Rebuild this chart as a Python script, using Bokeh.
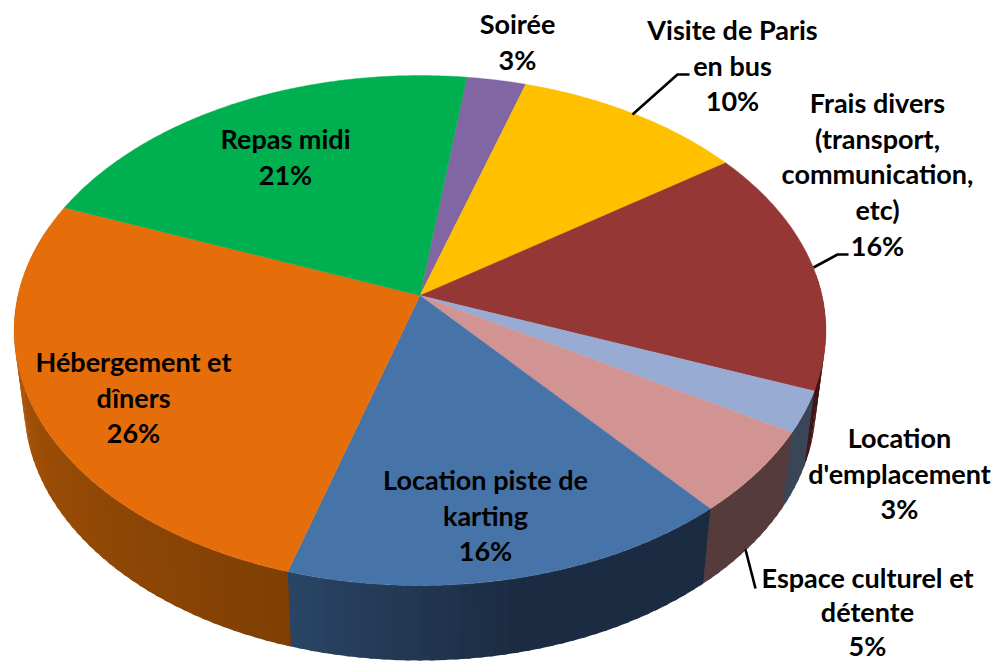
import math
from bokeh.plotting import figure
from bokeh.models import Range1d
from bokeh.core.properties import value
from bokeh.embed import file_html
from bokeh.resources import INLINE

# ---- data ------------------------------------------------------------------
names = ["Soirée", "Visite de Paris\nen bus", "Frais divers\n(transport,\ncommunication,\netc)",
         "Location\nd'emplacement", "Espace culturel et\ndétente", "Location piste de\nkarting",
         "Hébergement et\ndîners", "Repas midi"]
shares = [2.7, 10.5, 15.6, 2.6, 5.3, 15.8, 26.4, 21.1]
percent_labels = ["3%", "10%", "16%", "3%", "5%", "16%", "26%", "21%"]
top_colors = ["#8166a3", "#ffc000", "#953735", "#98abd3", "#d29493", "#4673a8", "#e56d0a", "#00b050"]
wall_stops = [["#4a3a60"], ["#806000"], ["#401414"], ["#3a4658"], ["#553b3c"],
              ["#1b2c42", "#1b2c42", "#2a4566"], ["#7f3f04", "#9a4c07", "#c4640c"], ["#005028"]]

# ---- layout (page pixels) ---------------------------------------------------
START_ANGLE = 7.6
CX, APEX_Y, A, B, K = 419.5, 295.0, 402.0, 250.2, 0.1373
DEPTH, BOTTOM_SCALE = 75.0, 0.975
WALL_FROM, WALL_TO = 85.0, 286.0
FONT_SIZE = "27px"
LINE_GAP = 35.7
label_pos = [(517, 23), (732, 29), (877, 102), (899, 437), (867, 576.5), (485, 479), (133, 361), (285, 138)]
label_gaps = [LINE_GAP, LINE_GAP, LINE_GAP, LINE_GAP, 34.4, LINE_GAP, LINE_GAP, LINE_GAP]
leader_lines = [[(632, 114), (677, 74), (689, 74)],
                [(813, 267), (837, 254), (848, 254)],
                [(745, 549), (755, 588)]]


def top_pt(theta):
    t = math.radians(theta)
    X, Y = math.sin(t), math.cos(t)
    d = 1 + K * Y
    return CX + A * X / d, APEX_Y - B * Y / d


def bottom_pt(theta):
    x, y = top_pt(theta)
    return CX + BOTTOM_SCALE * (x - CX), y + DEPTH


def rgb(h):
    return [int(h[i:i + 2], 16) for i in (1, 3, 5)]


def ramp(stops, f):
    if len(stops) == 1:
        return stops[0]
    pos = f * (len(stops) - 1)
    i = min(int(pos), len(stops) - 2)
    u = pos - i
    a, b = rgb(stops[i]), rgb(stops[i + 1])
    return "#%02x%02x%02x" % tuple(round(a[c] + (b[c] - a[c]) * u) for c in range(3))


p = figure(width=999, height=661, x_range=Range1d(0, 999), y_range=Range1d(661, 0),
           output_backend="svg", toolbar_location=None, min_border=0,
           background_fill_color="white", border_fill_color="white", outline_line_color=None,
           margin=(0, 0, 0, 0))
p.axis.visible = False
p.grid.visible = False

# slice angle ranges from the shares
total = sum(shares)
edges = [START_ANGLE]
for s in shares:
    edges.append(edges[-1] + 360 * s / total)

# side wall: overlapping strips painted in angle order, so no seams show
xs, ys, cols = [], [], []
for i in range(len(shares)):
    a0, a1 = edges[i], edges[i + 1]
    for shift in (0, 360):
        lo, hi = max(a0 - shift, WALL_FROM), min(a1 - shift, WALL_TO)
        if hi <= lo:
            continue
        n = max(1, int((hi - lo) / 1.5))
        for j in range(n):
            t0 = lo + (hi - lo) * j / n
            t1 = lo + (hi - lo) * (j + 1) / n + 0.6
            q = [top_pt(t0), top_pt(t1), bottom_pt(t1), bottom_pt(t0)]
            xs.append([c[0] for c in q])
            ys.append([c[1] for c in q])
            cols.append(ramp(wall_stops[i], (j + 0.5) / n))
p.patches(xs, ys, fill_color=cols, line_color=None)

# top face
for i in range(len(shares)):
    a0, a1 = edges[i], edges[i + 1]
    n = max(2, int(a1 - a0) * 2)
    pts = [(CX, APEX_Y)] + [top_pt(a0 + (a1 - a0) * j / n) for j in range(n + 1)]
    p.patch([c[0] for c in pts], [c[1] for c in pts], fill_color=top_colors[i],
            line_color=top_colors[i], line_width=0.4)

# leader lines
for ln in leader_lines:
    p.line([c[0] for c in ln], [c[1] for c in ln], line_color="black", line_width=2.6)

# labels
for name, pct, (lx, ly), gap in zip(names, percent_labels, label_pos, label_gaps):
    lines = name.split("\n") + [pct]
    p.text([lx] * len(lines), [ly + gap * k for k in range(len(lines))], text=lines,
           text_font=value("Lato"), text_font_style="bold", text_font_size=FONT_SIZE,
           text_align="center", text_baseline="middle", text_color="black")

open("out.html", "w").write(file_html(p, INLINE))
